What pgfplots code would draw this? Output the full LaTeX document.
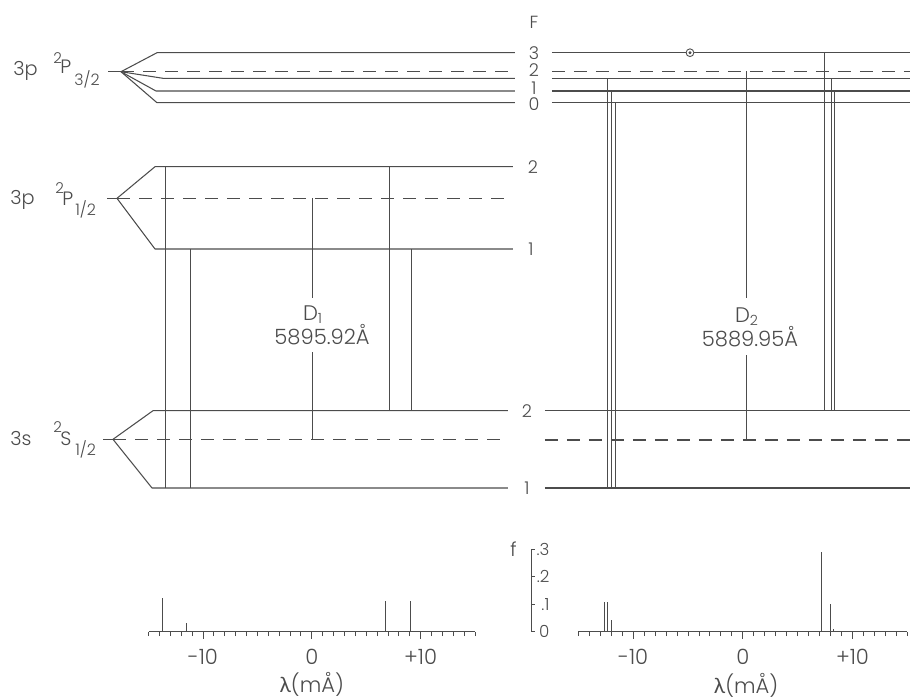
\documentclass[border=0pt]{standalone}
\usepackage{fontspec}
\setmainfont{Poppins Light}
\newfontfamily\lamfont{Lato}
\usepackage{pgfplots}
\pgfplotsset{compat=1.18}
\definecolor{ink}{gray}{0.3}
\newcommand\lab{\fontsize{11}{13}\selectfont}
\newcommand\blab{\fontsize{12}{14}\selectfont}
\newcommand\flab{\fontsize{10}{12}\selectfont}
\newcommand\supf{\fontsize{8.5}{9}\selectfont}
\newcommand\subf{\fontsize{9}{10}\selectfont}
\newcommand\fsm{\fontsize{9.5}{11}\selectfont}
\tikzset{
  lev/.style={ink, line width=0.6pt, line join=round},
  dsh/.style={ink, line width=0.6pt, dash pattern=on 2.6mm off 1.8mm},
  tr/.style={ink, line width=0.4pt},
  tx/.style={text=ink, font=\lab, inner sep=0pt},
}
\pgfplotsset{
  spec/.style={anchor=south west, scale only axis, height=16.5mm,
    xmin=-15, xmax=15, ymin=0, ymax=0.3, clip=false,
    axis x line=bottom, axis y line=none,
    x axis line style={-, ink, line width=0.5pt},
    xtick={-10,0,10}, xticklabels={-10,0,+10},
    minor xtick={-15,-14,...,15},
    tick align=outside, major tick length=1.4mm, minor tick length=0.9mm,
    tick style={ink, line width=0.45pt},
    xticklabel style={font=\blab, text=ink, inner sep=0pt, anchor=north, yshift=-2.0mm}},
}
\begin{document}
\begin{tikzpicture}
\useasboundingbox (0,0) rectangle (182mm,140mm);
\begin{axis}[at={(0,0)}, anchor=south west, width=182mm, height=140mm, scale only axis,
  xmin=0, xmax=910, ymin=0, ymax=700, y dir=reverse, hide axis, clip=false]
% ---- 3p 2P3/2 ----
\addplot[lev] coordinates {(108,71.7) (121,71.7)};
\addplot[lev] coordinates {(121,71.7) (157,52.7) (515,52.7)};
\addplot[lev] coordinates {(121,71.7) (163,78.3) (515,78.3)};
\addplot[lev] coordinates {(121,71.7) (156,91) (515,91)};
\addplot[lev] coordinates {(121,71.7) (157,102.7) (515,102.7)};
\addplot[dsh] coordinates {(121,71.2) (515,71.2)};
\addplot[lev] coordinates {(552,52.7) (910,52.7)};
\addplot[dsh] coordinates {(552,71.2) (910,71.2)};
\addplot[lev] coordinates {(552,78.3) (910,78.3)};
\addplot[lev] coordinates {(552,91) (910,91)};
\addplot[lev] coordinates {(552,102.7) (910,102.7)};
% ---- 3p 2P1/2 ----
\addplot[lev] coordinates {(107,198.3) (117,198.3)};
\addplot[lev] coordinates {(117,198.3) (155,166.7) (513,166.7)};
\addplot[lev] coordinates {(117,198.3) (155,249) (513,249)};
\addplot[dsh] coordinates {(117,198.3) (513,198.3)};
% ---- 3s 2S1/2 ----
\addplot[lev] coordinates {(103,439.3) (113,439.3)};
\addplot[lev] coordinates {(113,439.3) (153,410.7) (508,410.7)};
\addplot[lev] coordinates {(113,439.3) (152,488) (508,488)};
\addplot[dsh] coordinates {(113,439.3) (508,439.3)};
\addplot[lev] coordinates {(545,410.7) (910,410.7)};
\addplot[lev] coordinates {(545,488) (910,488)};
\addplot[dsh] coordinates {(545,440) (910,440)};
% ---- D1 transitions ----
\addplot[tr] coordinates {(165.7,166.7) (165.7,488)};
\addplot[tr] coordinates {(190.7,249) (190.7,488)};
\addplot[tr] coordinates {(389,166.7) (389,410.7)};
\addplot[tr] coordinates {(411,249) (411,410.7)};
\addplot[tr] coordinates {(312,198.3) (312,298)};
\addplot[tr] coordinates {(312,352) (312,439.3)};
% ---- D2 transitions ----
\addplot[tr] coordinates {(607,78.3) (607,488)};
\addplot[tr] coordinates {(611.5,91) (611.5,488)};
\addplot[tr] coordinates {(615.3,102.7) (615.3,488)};
\addplot[tr] coordinates {(824,52.7) (824,410.7)};
\addplot[tr] coordinates {(831.5,78.3) (831.5,410.7)};
\addplot[tr] coordinates {(834.5,91) (834.5,410.7)};
\addplot[tr] coordinates {(746,71.2) (746,298)};
\addplot[tr] coordinates {(746,355) (746,440)};
% circled dot
\addplot[only marks, mark=*, mark size=2.2pt, mark options={fill=white, draw=ink, line width=0.5pt}] coordinates {(690,52.7)};
\addplot[only marks, mark=*, mark size=0.6pt, ink] coordinates {(690,52.7)};
% ---- labels ----
\node[tx, anchor=base west] at (axis cs:13,75) {3p};
\node[tx, anchor=base west, font=\supf] at (axis cs:53,63) {2};
\node[tx, anchor=base west] at (axis cs:60,73) {P};
\node[tx, anchor=base west, font=\subf] at (axis cs:74,85) {3/2};
\node[tx, anchor=base west] at (axis cs:10,204) {3p};
\node[tx, anchor=base west, font=\supf] at (axis cs:55,193) {2};
\node[tx, anchor=base west] at (axis cs:62,205) {P};
\node[tx, anchor=base west, font=\subf] at (axis cs:75,215) {1/2};
\node[tx, anchor=base west] at (axis cs:10,445) {3s};
\node[tx, anchor=base west, font=\supf] at (axis cs:53,432) {2};
\node[tx, anchor=base west] at (axis cs:60,445) {S};
\node[tx, anchor=base west, font=\subf] at (axis cs:75,455) {1/2};
\node[tx, font=\flab] at (axis cs:534,22) {F};
\node[tx, font=\flab] at (axis cs:534,52.7) {3};
\node[tx, font=\flab] at (axis cs:534,70.5) {2};
\node[tx, font=\flab] at (axis cs:534,88) {1};
\node[tx, font=\flab] at (axis cs:534,104) {0};
\node[tx, font=\flab] at (axis cs:533,166.7) {2};
\node[tx, font=\flab] at (axis cs:531,249) {1};
\node[tx, font=\flab] at (axis cs:527,410.7) {2};
\node[tx, font=\flab] at (axis cs:527,488) {1};
\node[tx, anchor=base, font=\blab] at (axis cs:313,320) {D\textsubscript{1}};
\node[tx, anchor=base, font=\blab] at (axis cs:322,344) {5895.92Å};
\node[tx, anchor=base, font=\blab] at (axis cs:747,322) {D\textsubscript{2}};
\node[tx, anchor=base, font=\blab] at (axis cs:750,346) {5889.95Å};
\end{axis}
% ---- left spectrum (D1) ----
\begin{axis}[spec, at={(29.7mm,13.66mm)}, width=65.3mm]
\addplot[ycomb, ink, line width=0.5pt] coordinates {(-13.70,0.121) (-11.49,0.030) (6.74,0.113) (9.03,0.113)};
\node[tx, font=\blab] at (axis cs:0,-0.193) {{\lamfont λ}(mÅ)};
\end{axis}
% ---- right spectrum (D2) ----
\begin{axis}[spec, at={(115.65mm,13.66mm)}, width=65.82mm]
\addplot[ycomb, ink, line width=0.45pt] coordinates {(-12.63,0.109) (-12.32,0.109) (-12.01,0.042) (7.19,0.29) (7.95,0.102) (8.22,0.011)};
\addplot[ink, line width=0.5pt] coordinates {(-19.3,0) (-19.3,0.3)};
\addplot[ink, line width=0.45pt] coordinates {(-19.3,0) (-18.9,0)};
\addplot[ink, line width=0.45pt] coordinates {(-19.3,0.1) (-18.9,0.1)};
\addplot[ink, line width=0.45pt] coordinates {(-19.3,0.2) (-18.9,0.2)};
\addplot[ink, line width=0.45pt] coordinates {(-19.3,0.3) (-18.9,0.3)};
\node[tx, anchor=east, font=\fsm] at (axis cs:-17.6,0) {0};
\node[tx, anchor=east, font=\fsm] at (axis cs:-17.6,0.1) {.1};
\node[tx, anchor=east, font=\fsm] at (axis cs:-17.6,0.2) {.2};
\node[tx, anchor=east, font=\fsm] at (axis cs:-17.6,0.3) {.3};
\node[tx] at (axis cs:-20.9,0.3) {f};
\node[tx, font=\blab] at (axis cs:0.3,-0.196) {{\lamfont λ}(mÅ)};
\end{axis}
\end{tikzpicture}
\end{document}
